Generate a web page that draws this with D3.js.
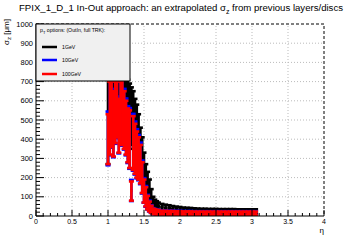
<!DOCTYPE html>
<html>
<head>
<meta charset="utf-8">
<script src="https://cdn.jsdelivr.net/npm/d3@7"></script>
<style>
  body { margin: 0; background: #fff; }
  text { font-family: "Liberation Sans", Arial, sans-serif; fill: #000; }
</style>
</head>
<body>
<div id="chart"></div>
<script>
const W = 360, H = 240;
const margin = { left: 36, right: 36, top: 24, bottom: 24 };

// eta bins (bin centres)
const eta = [1.000, 1.025, 1.050, 1.075, 1.100, 1.125, 1.150, 1.175, 1.200, 1.225,
  1.250, 1.275, 1.300, 1.325, 1.350, 1.375, 1.400, 1.425, 1.450, 1.475,
  1.500, 1.525, 1.550, 1.575, 1.600, 1.625, 1.650, 1.675, 1.700,
  1.75, 1.80, 1.85, 1.90, 1.95, 2.00, 2.05, 2.10, 2.15, 2.20, 2.25, 2.30, 2.35,
  2.40, 2.45, 2.50, 2.55, 2.60, 2.65, 2.70, 2.75, 2.80, 2.85, 2.90, 2.95, 3.00, 3.05];

const sigma1 = [650, 700, 640, 660, 620, 660, 600, 620, 590, 580,
  560, 550, 530, 520, 500, 470, 440, 400, 340, 300,
  230, 180, 150, 120, 90, 70, 60, 55, 50,
  45, 42, 40, 37, 35, 33, 31, 30, 29, 28, 27, 26, 26,
  25, 25, 25, 24, 24, 24, 24, 24, 23, 23, 23, 23, 23, 23];
const err1 = [380, 300, 250, 230, 210, 210, 190, 180, 170, 170,
  160, 160, 160, 150, 150, 140, 140, 130, 120, 110,
  100, 90, 80, 70, 50, 30, 25, 22, 20,
  18, 17, 16, 15, 14, 14, 13, 13, 13, 12, 12, 12, 12,
  12, 12, 12, 12, 12, 12, 12, 12, 12, 12, 12, 12, 12, 12];

const sigma10 = [404, 514, 564, 484, 544, 584, 474, 544, 544, 504,
  464, 424, 404, 133, 384, 354, 324, 304, 274, 203,
  133, 102, 72, 52, 36, 26, 23, 21, 20,
  18, 18, 17, 17, 16, 16, 15, 15, 15, 14, 14, 14, 14,
  14, 14, 14, 14, 14, 14, 14, 14, 14, 14, 14, 14, 14, 14];
const err10 = [140, 198, 208, 178, 168, 178, 148, 168, 178, 158,
  148, 148, 158, 55, 148, 138, 128, 118, 108, 86,
  64, 54, 38, 28, 20, 15, 14, 13, 13,
  11, 11, 11, 11, 11, 11, 11, 11, 11, 11, 11, 11, 11,
  11, 11, 11, 11, 11, 11, 11, 11, 11, 11, 11, 11, 11, 11];

const sigma100 = [400, 510, 560, 480, 540, 580, 470, 540, 540, 500,
  460, 420, 400, 130, 380, 350, 320, 300, 270, 200,
  130, 100, 70, 50, 35, 25, 22, 20, 19,
  17, 17, 16, 16, 15, 15, 14, 14, 14, 13, 13, 13, 13,
  13, 13, 13, 13, 13, 13, 13, 13, 13, 13, 13, 13, 13, 13];
const err100 = [130, 190, 200, 170, 160, 170, 140, 160, 170, 150,
  140, 140, 150, 50, 140, 130, 120, 110, 100, 80,
  60, 50, 35, 25, 18, 14, 13, 12, 12,
  10, 10, 10, 10, 10, 10, 10, 10, 10, 10, 10, 10, 10,
  10, 10, 10, 10, 10, 10, 10, 10, 10, 10, 10, 10, 10, 10];

const seriesNames = ["1GeV", "10GeV", "100GeV"];
const seriesColors = ["#000000", "#0000ff", "#ff0000"];
const seriesValues = [sigma1, sigma10, sigma100];
const seriesErrors = [err1, err10, err100];

const xTicks = [0, 0.5, 1, 1.5, 2, 2.5, 3, 3.5, 4];
const yTicks = [0, 100, 200, 300, 400, 500, 600, 700, 800, 900, 1000];

const x = d3.scaleLinear().domain([0, 4]).range([margin.left, W - margin.right]);
const y = d3.scaleLinear().domain([0, 1000]).range([H - margin.bottom, margin.top]);

const svg = d3.select("#chart").append("svg")
  .attr("width", W).attr("height", H);

svg.append("rect").attr("width", W).attr("height", H).attr("fill", "#fff");

svg.append("defs").append("clipPath").attr("id", "plot")
  .append("rect")
  .attr("x", x(0)).attr("y", y(1000))
  .attr("width", x(4) - x(0)).attr("height", y(0) - y(1000));

// grid
const grid = svg.append("g").attr("stroke", "#bbb").attr("stroke-dasharray", "1,2");
grid.selectAll("line.gx").data(xTicks.slice(1, -1)).enter().append("line")
  .attr("x1", d => x(d)).attr("x2", d => x(d))
  .attr("y1", y(0)).attr("y2", y(1000));
grid.selectAll("line.gy").data(yTicks.slice(1, -1)).enter().append("line")
  .attr("x1", x(0)).attr("x2", x(4))
  .attr("y1", d => y(d)).attr("y2", d => y(d));

// frame top / right (dashed)
svg.append("path")
  .attr("d", `M${x(0)},${y(1000)}H${x(4)}V${y(0)}`)
  .attr("fill", "none").attr("stroke", "#000").attr("stroke-dasharray", "3,2");

// data
const marks = svg.append("g").attr("clip-path", "url(#plot)");
seriesValues.forEach((vals, s) => {
  const g = marks.append("g")
    .attr("stroke", seriesColors[s]).attr("stroke-width", 2.6);
  const pts = eta.map((e, i) => {
    const prev = i > 0 ? eta[i - 1] : e - (eta[1] - eta[0]);
    const next = i < eta.length - 1 ? eta[i + 1] : e + (e - eta[i - 1]);
    return { e: e, v: vals[i], err: seriesErrors[s][i], lo: (e + prev) / 2, hi: (e + next) / 2 };
  });
  g.selectAll("line.v").data(pts).enter().append("line")
    .attr("x1", d => x(d.e)).attr("x2", d => x(d.e))
    .attr("y1", d => y(d.v - d.err)).attr("y2", d => y(d.v + d.err));
  g.selectAll("line.h").data(pts).enter().append("line")
    .attr("x1", d => x(d.lo)).attr("x2", d => x(d.hi))
    .attr("y1", d => y(d.v)).attr("y2", d => y(d.v));
  g.selectAll("line.ct").data(pts).enter().append("line")
    .attr("x1", d => x(d.e) - 2.5).attr("x2", d => x(d.e) + 2.5)
    .attr("y1", d => y(d.v + d.err)).attr("y2", d => y(d.v + d.err));
  g.selectAll("line.cb").data(pts).enter().append("line")
    .attr("x1", d => x(d.e) - 2.5).attr("x2", d => x(d.e) + 2.5)
    .attr("y1", d => y(Math.max(0, d.v - d.err))).attr("y2", d => y(Math.max(0, d.v - d.err)));
});

// axes
const axes = svg.append("g").attr("stroke", "#000");
axes.append("line").attr("x1", x(0)).attr("x2", x(4)).attr("y1", y(0)).attr("y2", y(0));
axes.append("line").attr("x1", x(0)).attr("x2", x(0)).attr("y1", y(0)).attr("y2", y(1000));
axes.selectAll("line.xt").data(d3.range(0, 41)).enter().append("line")
  .attr("x1", d => x(d / 10)).attr("x2", d => x(d / 10))
  .attr("y1", y(0)).attr("y2", d => y(0) - (d % 5 === 0 ? 6 : 3));
axes.selectAll("line.yt").data(d3.range(0, 51)).enter().append("line")
  .attr("x1", x(0)).attr("x2", d => x(0) + (d % 5 === 0 ? 8 : 4))
  .attr("y1", d => y(d * 20)).attr("y2", d => y(d * 20));

svg.append("g").selectAll("text").data(xTicks).enter().append("text")
  .attr("x", d => x(d)).attr("y", y(0) + 7.5)
  .attr("text-anchor", "middle").attr("font-size", 7)
  .text(d => d);
svg.append("g").selectAll("text").data(yTicks).enter().append("text")
  .attr("x", x(0) - 3).attr("y", d => y(d) + 2.6)
  .attr("text-anchor", "end").attr("font-size", 7.5)
  .text(d => d);

// axis titles
svg.append("text").attr("x", x(4)).attr("y", 233)
  .attr("text-anchor", "end").attr("font-size", 8).text("η");
const yt = svg.append("text")
  .attr("transform", `translate(9,19) rotate(-90)`)
  .attr("text-anchor", "end").attr("font-size", 8);
yt.append("tspan").text("σ");
yt.append("tspan").attr("font-size", 6).attr("dy", 2).text("z");
yt.append("tspan").attr("dy", -2).text(" [μm]");

// title
const title = svg.append("text").attr("x", W / 2 + 1).attr("y", 11)
  .attr("text-anchor", "middle").attr("font-size", 9.6);
title.append("tspan").text("FPIX_1_D_1 In-Out approach: an extrapolated σ");
title.append("tspan").attr("font-size", 7).attr("dy", 2.5).text("z");
title.append("tspan").attr("dy", -2.5).text(" from previous layers/discs");

// legend
const lg = svg.append("g");
lg.append("rect").attr("x", x(0)).attr("y", y(1000))
  .attr("width", 94).attr("height", 57)
  .attr("fill", "#f0f0f0").attr("stroke", "#000");
const hdr = lg.append("text").attr("x", 40).attr("y", 32).attr("font-size", 5.2);
hdr.append("tspan").text("p");
hdr.append("tspan").attr("font-size", 4).attr("dy", 1.5).text("T");
hdr.append("tspan").attr("dy", -1.5).text(" options: (OutIn, full TRK):");
const legendY = [47, 60, 74];
seriesNames.forEach((name, i) => {
  lg.append("line").attr("x1", 42).attr("x2", 57)
    .attr("y1", legendY[i]).attr("y2", legendY[i])
    .attr("stroke", seriesColors[i]).attr("stroke-width", 2.5);
  lg.append("text").attr("x", 62).attr("y", legendY[i] + 2)
    .attr("font-size", 5.2).text(name);
});
</script>
</body>
</html>
